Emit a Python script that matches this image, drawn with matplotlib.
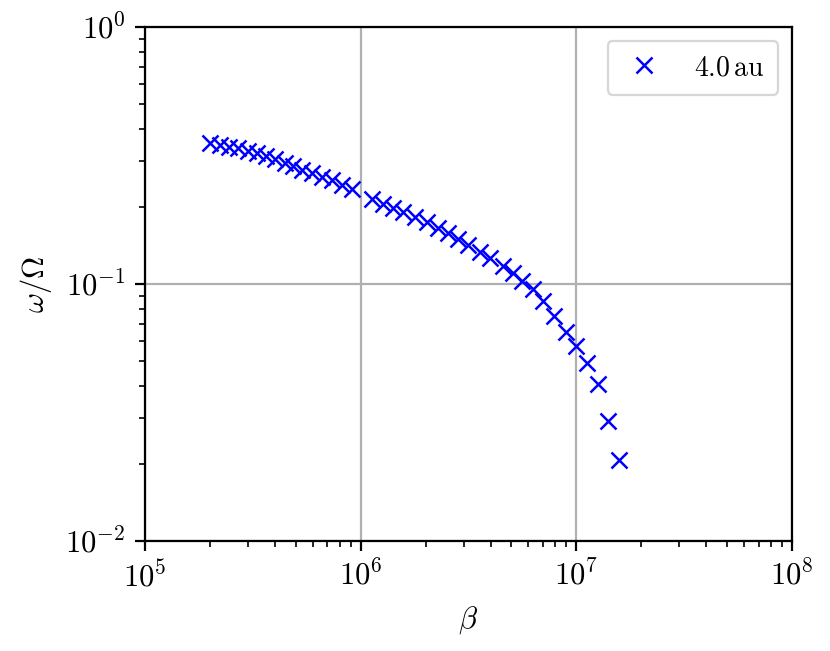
import matplotlib
matplotlib.use('Agg')
import matplotlib.pyplot as plt

plt.rcParams['font.family'] = 'serif'
plt.rcParams['font.serif'] = ['cmr10']
plt.rcParams['mathtext.fontset'] = 'cm'
plt.rcParams['axes.formatter.use_mathtext'] = True
plt.rcParams['axes.unicode_minus'] = False

# values (beta, omega/Omega)
beta = [2.00e5, 2.23e5, 2.45e5, 2.70e5, 3.00e5, 3.31e5, 3.64e5, 4.01e5,
        4.46e5, 4.85e5, 5.35e5, 5.95e5, 6.62e5, 7.36e5, 8.19e5, 9.11e5,
        1.13e6, 1.27e6, 1.41e6, 1.57e6, 1.79e6, 2.03e6, 2.28e6, 2.54e6,
        2.83e6, 3.14e6, 3.57e6, 3.98e6, 4.57e6, 5.08e6, 5.60e6, 6.29e6,
        7.00e6, 7.88e6, 8.95e6, 9.96e6, 1.12e7, 1.26e7, 1.40e7, 1.58e7]
omega = [0.354, 0.347, 0.341, 0.338, 0.329, 0.323, 0.315, 0.306,
         0.296, 0.288, 0.278, 0.270, 0.261, 0.254, 0.243, 0.234,
         0.214, 0.205, 0.1975, 0.1906, 0.1822, 0.1743, 0.1652, 0.1579,
         0.1496, 0.1418, 0.1332, 0.1262, 0.1175, 0.1104, 0.1027, 0.0956,
         0.0859, 0.0751, 0.0650, 0.0574, 0.0493, 0.0408, 0.0293, 0.0207]
label = r'$4.0\,\mathrm{au}$'

fig = plt.figure(figsize=(8.3, 6.51), dpi=100)
ax = fig.add_axes([0.1747, 0.169, 0.7795, 0.7895])

ax.plot(beta, omega, 'x', color='blue', markersize=11, markeredgewidth=1.8,
        label=label, zorder=3)

ax.set_xscale('log')
ax.set_yscale('log')
ax.set_xlim(1e5, 1e8)
ax.set_ylim(1e-2, 1e0)
ax.grid(True, which='major', color='#b0b0b0', linewidth=1.6)
ax.set_axisbelow(True)

ax.set_xlabel(r'$\beta$', fontsize=22, labelpad=8)
ax.set_ylabel(r'$\omega/\Omega$', fontsize=22, labelpad=8)
ax.tick_params(which='major', labelsize=22, length=7, width=1.6, pad=7)
ax.tick_params(which='minor', length=4, width=1.2)
for s in ax.spines.values():
    s.set_linewidth(1.6)

leg = ax.legend(loc='upper right', fontsize=20, framealpha=0.8,
                handlelength=1.6, handletextpad=1.0, borderpad=0.5)
leg.get_frame().set_linewidth(1.6)

fig.savefig('out.png', dpi=100)
